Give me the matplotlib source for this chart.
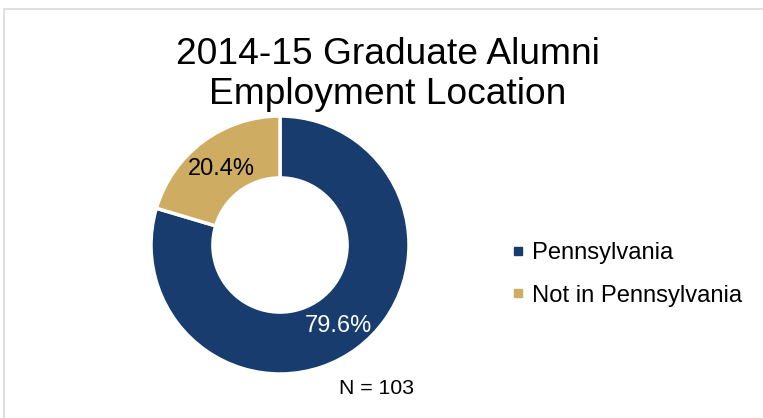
import matplotlib
matplotlib.use("Agg")
import matplotlib.pyplot as plt
from matplotlib.lines import Line2D
from matplotlib.patches import Rectangle

plt.rcParams['font.family'] = ['Liberation Sans', 'DejaVu Sans']

categories = ["Pennsylvania", "Not in Pennsylvania"]
values = [79.6, 20.4]
colors = ["#173C6D", "#CEAC62"]
title = "2014-15 Graduate Alumni\nEmployment Location"
note = "N = 103"

W, H = 763, 418
fig = plt.figure(figsize=(W / 100, H / 100), dpi=100)

# chart border (extends beyond right and bottom edges)
fig.patches.append(Rectangle((3.5 / W, -0.05), 1.05, 1 - 9 / H + 0.05, transform=fig.transFigure,
                             fill=False, edgecolor="#D9D9D9", linewidth=1.2))

cx, cy, R = 280, 245, 129
ax = fig.add_axes([(cx - R) / W, (H - cy - R) / H, 2 * R / W, 2 * R / H])
wedges, texts, autotexts = ax.pie(
    values, colors=colors, startangle=90, counterclock=False,
    radius=1.0, autopct="%.1f%%", pctdistance=0.76,
    wedgeprops=dict(width=0.48, edgecolor="white", linewidth=2.5),
    textprops=dict(fontsize=17))
autotexts[0].set_color("white")
autotexts[1].set_color("black")
for t in autotexts:
    t.set_va("center_baseline")
ax.set_xlim(-1, 1)
ax.set_ylim(-1, 1)
ax.set_aspect("equal")
ax.axis("off")

fig.text(387.5 / W, 1 - 104 / H, title, ha="center", va="baseline", fontsize=26.7,
         linespacing=1.2, color="black")

fig.text(339 / W, 1 - 394 / H, note, ha="left", va="baseline", fontsize=15.3)

handles = [Line2D([], [], marker="s", linestyle="none", markersize=5.8,
                  markerfacecolor=c, markeredgecolor=c) for c in colors]
fig.legend(handles, categories, loc="center left", bbox_to_anchor=(511 / W, 1 - 274.5 / H),
           frameon=False, fontsize=17.1, handlelength=0.6, handletextpad=0.28,
           labelspacing=0.85, borderaxespad=0, borderpad=0)

fig.savefig("out.png", dpi=100)
